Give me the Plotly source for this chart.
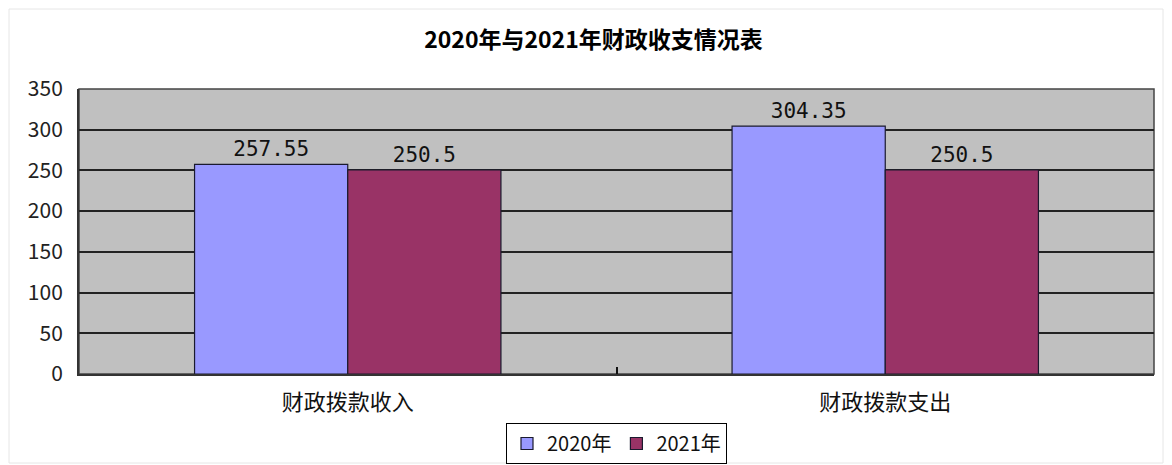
import plotly.graph_objects as go

categories = ["财政拨款收入", "财政拨款支出"]
series_names = ["2020年", "2021年"]
values_2020 = [257.55, 304.35]
values_2021 = [250.5, 250.5]
y_ticks = [0, 50, 100, 150, 200, 250, 300, 350]

colors = ["#9999FF", "#993366"]
font_family = "Noto Sans CJK SC, Noto Sans, sans-serif"
mono_family = "DejaVu Sans Mono, Liberation Mono, monospace"

fig = go.Figure()
for name, vals, col in zip(series_names, [values_2020, values_2021], colors):
    fig.add_trace(go.Bar(
        x=categories, y=vals, name=name,
        marker=dict(color=col, line=dict(color="#1a1a2e", width=1.2)),
        text=[f"{v:g}" for v in vals], textposition="outside",
        textfont=dict(family=mono_family, size=21, color="#111"),
        cliponaxis=False,
    ))

# page has an 8px body margin, so the figure is sized to fit the window
W, H = 1164, 457
L, R, T, B = 71, 18, 81, 91
PW, PH = W - L - R, H - T - B

fig.update_layout(
    width=W, height=H,
    margin=dict(l=L, r=R, t=T, b=B, autoexpand=False),
    paper_bgcolor="white", plot_bgcolor="#C0C0C0",
    barmode="group", bargap=0.43, bargroupgap=0,
    title=dict(text="<b>2020年与2021年财政收支情况表</b>", x=0.503, xanchor="center",
               y=1 - 32 / H, yanchor="middle",
               font=dict(family=font_family, size=23, color="#000")),
    font=dict(family=font_family, color="#222"),
    showlegend=True,
    legend=dict(orientation="h", x=0.5, xanchor="center", y=-49 / PH, yanchor="top",
                bordercolor="#000", borderwidth=1, bgcolor="white",
                font=dict(size=20, color="#111"), itemwidth=30,
                traceorder="normal"),
)
fig.update_xaxes(
    showline=True, linecolor="#333", linewidth=2, mirror=False,
    ticks="inside", tickson="boundaries", ticklen=7, tickcolor="#111", tickwidth=2,
    tickfont=dict(size=22, color="#111"), showgrid=False, ticklabelstandoff=8,
)
fig.update_yaxes(
    range=[0, 350], tickvals=y_ticks, showline=True, linecolor="#333", linewidth=2,
    showgrid=True, gridcolor="#222", gridwidth=1.5,
    tickfont=dict(size=21, color="#222"), ticks="", zeroline=False,
    ticklabelstandoff=10,
)
fig.add_shape(type="rect", xref="paper", yref="paper", x0=0, x1=1, y0=0, y1=1,
              line=dict(color="#444", width=1.5), layer="below")
# faint outer chart border
fig.add_shape(type="rect", xref="paper", yref="paper",
              x0=-70 / PW, x1=1 + 9 / PW, y0=-89 / PH, y1=1 + 80 / PH,
              line=dict(color="#e6e6e6", width=1), layer="below")

fig.write_html("out.html")
